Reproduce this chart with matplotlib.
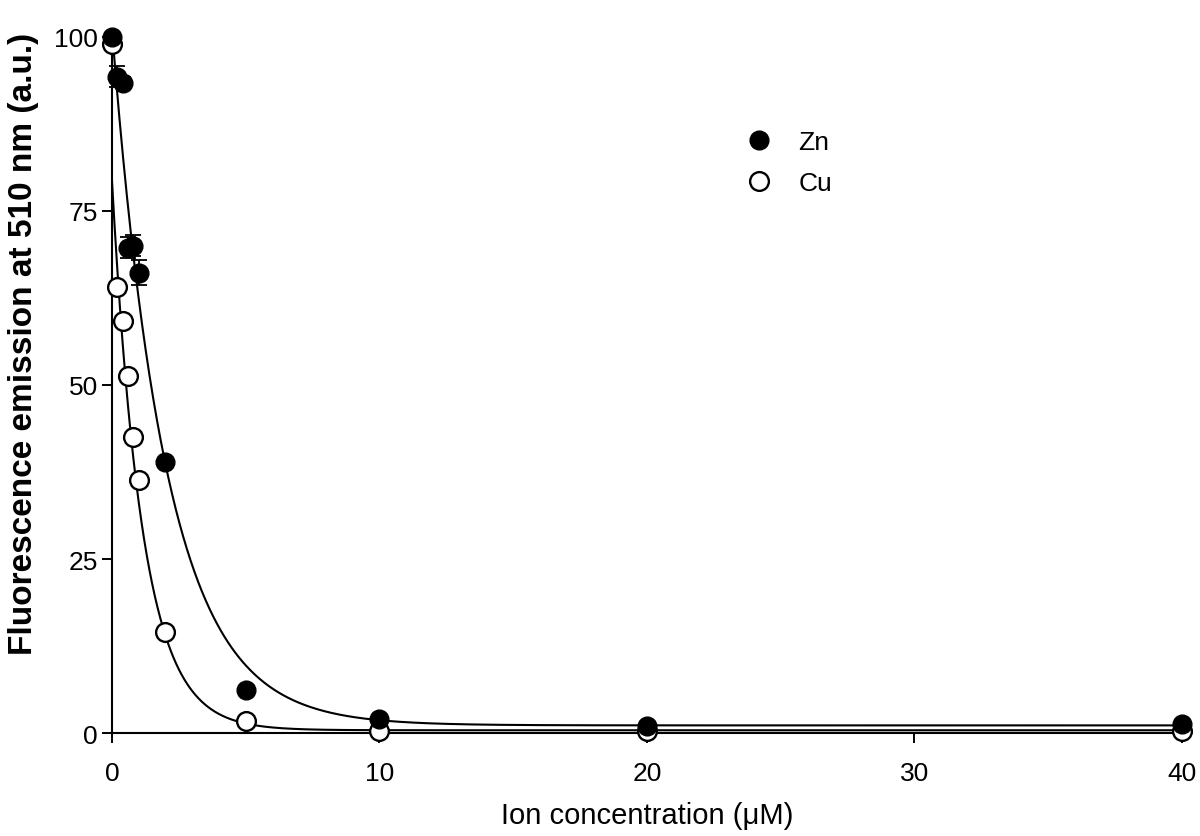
import numpy as np
import matplotlib.pyplot as plt

# data
conc = [0, 0.2, 0.4, 0.6, 0.8, 1.0, 2, 5, 10, 20, 40]
zn_mean = [100, 94.3, 93.4, 69.7, 70.0, 66.1, 38.9, 6.2, 2.0, 1.0, 1.3]
zn_err = [0, 1.5, 0.8, 1.5, 1.5, 1.8, 0.5, 0.3, 0.3, 0.2, 0.2]
cu_mean = [99, 64.1, 59.2, 51.3, 42.5, 36.3, 14.5, 1.7, 0.3, 0.3, 0.3]

# one-phase decay fits (span, rate constant, plateau)
zn_fit = (100.0, 0.49, 1.1)
cu_fit = (79.0, 0.88, 0.4)

plt.rcParams['font.family'] = ['Liberation Sans', 'DejaVu Sans']

fig = plt.figure(figsize=(12, 8.37), dpi=100)
ax = fig.add_axes([0.0933, 0.123, 0.8917, 0.8317])

# fitted curves
xs = np.linspace(0, 40, 2000)
for span, k, plateau in (zn_fit, cu_fit):
    ax.plot(xs, plateau + span * np.exp(-k * xs), color='black', lw=1.5, zorder=2)

# data points
ax.errorbar(conc, zn_mean, yerr=zn_err, fmt='none', ecolor='black',
            elinewidth=1.3, capsize=6, capthick=1.3, zorder=3, clip_on=False)
ax.plot(conc, cu_mean, 'o', ms=13.5, mfc='white', mec='black', mew=1.7,
        label='Cu', zorder=4, clip_on=False)
ax.plot(conc, zn_mean, 'o', ms=13.5, mfc='black', mec='black',
        label='Zn', zorder=5, clip_on=False)

ax.set_xlim(0, 40)
ax.set_ylim(0, 100)
ax.set_xticks([0, 10, 20, 30, 40])
ax.set_yticks([0, 25, 50, 75, 100])
ax.tick_params(direction='out', length=7, width=1.4, labelsize=19)
ax.tick_params(axis='x', pad=13)
ax.tick_params(axis='y', pad=3)

for side in ('top', 'right'):
    ax.spines[side].set_visible(False)
for side in ('left', 'bottom'):
    ax.spines[side].set_linewidth(1.5)

ax.set_xlabel('Ion concentration (μM)', fontsize=21, labelpad=12)
ax.set_ylabel('Fluorescence emission at 510 nm (a.u.)', fontsize=24,
              fontweight='bold')
ax.yaxis.set_label_coords(-0.068, 0.56)

handles, labels = ax.get_legend_handles_labels()
ax.legend(handles[::-1], labels[::-1], loc='upper left',
          bbox_to_anchor=(0.57, 0.9), frameon=False, fontsize=19,
          handlelength=1.0, handletextpad=1.0, labelspacing=0.65)

fig.savefig('out.png', dpi=100)
